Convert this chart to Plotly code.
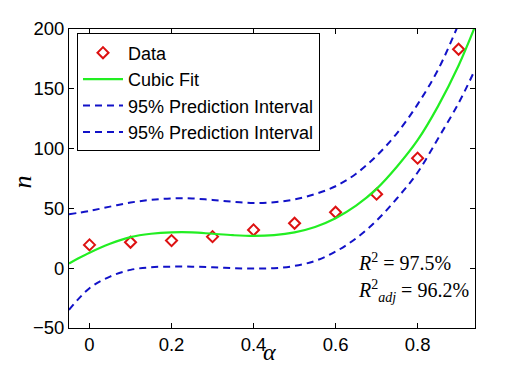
import plotly.graph_objects as go

# Data points
alpha_data = [0.0, 0.1, 0.2, 0.3, 0.4, 0.5, 0.6, 0.7, 0.8, 0.9]
n_data = [19.5, 21.7, 23.1, 26.4, 32.0, 37.6, 46.8, 61.9, 92.0, 183.1]

# Curves
alpha_curve = [-0.05, 0.0, 0.05, 0.1, 0.15, 0.2, 0.25, 0.3, 0.35, 0.4, 0.45,
               0.5, 0.55, 0.6, 0.65, 0.7, 0.75, 0.8, 0.85, 0.9, 0.94]
fit_curve = [4.0, 13.0, 20.5, 26.0, 28.8, 30.0, 30.0, 28.8, 27.6, 27.0, 27.7,
             30.0, 34.5, 41.8, 52.3, 66.3, 85.0, 107.0, 135.5, 169.5, 202.0]
upper_pi = [45.1, 47.9, 51.5, 54.9, 57.1, 58.3, 58.3, 57.1, 55.6, 54.5, 55.2,
            57.5, 62.0, 68.5, 79.0, 94.0, 113.0, 137.0, 166.0, 204.0, 236.0]
lower_pi = [-34.9, -16.7, -7.0, -1.4, 0.8, 1.3, 1.3, 0.8, 0.0, -0.3, 0.0,
            1.9, 6.1, 13.9, 25.0, 39.8, 58.5, 80.0, 108.5, 138.0, 166.0]

x_ticks = [0, 0.2, 0.4, 0.6, 0.8]
x_ticklabels = ["0", "0.2", "0.4", "0.6", "0.8"]
y_ticks = [-50, 0, 50, 100, 150, 200]

GREEN = "#22ee22"
BLUE = "#1212c8"
RED = "#dd1111"

fig = go.Figure()
fig.add_trace(go.Scatter(x=alpha_data, y=n_data, mode="markers", name="Data",
                         marker=dict(symbol="diamond-open", size=8.5, color=RED,
                                     line=dict(width=2, color=RED))))
fig.add_trace(go.Scatter(x=alpha_curve, y=fit_curve, mode="lines", name="Cubic Fit",
                         line=dict(color=GREEN, width=2.2, shape="spline")))
fig.add_trace(go.Scatter(x=alpha_curve, y=upper_pi, mode="lines", name="95% Prediction Interval",
                         line=dict(color=BLUE, width=2, dash="7px,5px", shape="spline")))
fig.add_trace(go.Scatter(x=alpha_curve, y=lower_pi, mode="lines", name="95% Prediction Interval",
                         line=dict(color=BLUE, width=2, dash="7px,5px", shape="spline")))

axis_common = dict(showline=True, linecolor="black", linewidth=1, mirror="ticks",
                   ticks="inside", ticklen=5, tickcolor="black", showgrid=False,
                   zeroline=False, tickfont=dict(family="Liberation Sans, Arial", size=18.5, color="black"))

fig.update_xaxes(range=[-0.05, 0.94], tickvals=x_ticks, ticktext=x_ticklabels, **axis_common)
fig.update_yaxes(range=[-50, 200], tickvals=y_ticks, **axis_common)

fig.update_layout(
    width=530, height=368,
    margin=dict(l=69, r=55, t=29, b=40),
    paper_bgcolor="white", plot_bgcolor="white",
    showlegend=True,
    legend=dict(x=0.0197, y=0.985, xanchor="left", yanchor="top",
                bgcolor="white", bordercolor="black", borderwidth=1,
                font=dict(family="Liberation Sans, Arial", size=18, color="black"),
                itemwidth=40, tracegroupgap=0),
    annotations=[
        dict(text="<i>n</i>", xref="paper", yref="paper", x=-0.115, y=0.488,
             xanchor="center", yanchor="middle",
             showarrow=False, textangle=-90,
             font=dict(family="Liberation Serif, serif", size=26, color="black")),
        dict(text="<i>α</i>", xref="paper", yref="paper", x=0.493, y=-0.08,
             xanchor="center", yanchor="middle",
             showarrow=False,
             font=dict(family="Liberation Serif, serif", size=24, color="black")),
        dict(text="<i>R</i><sup>2</sup> = 97.5%", xref="x", yref="y", x=0.65, y=5.3,
             xanchor="left", yanchor="middle", showarrow=False,
             font=dict(family="Liberation Serif, serif", size=20, color="black")),
        dict(text="<i>R</i><sup>2</sup><sub><i>adj</i></sub> = 96.2%", xref="x", yref="y",
             x=0.65, y=-19, xanchor="left", yanchor="middle", showarrow=False,
             font=dict(family="Liberation Serif, serif", size=20, color="black")),
    ],
)

fig.write_html("out.html", config={"displayModeBar": False},
               post_script="document.body.style.margin='0';")
